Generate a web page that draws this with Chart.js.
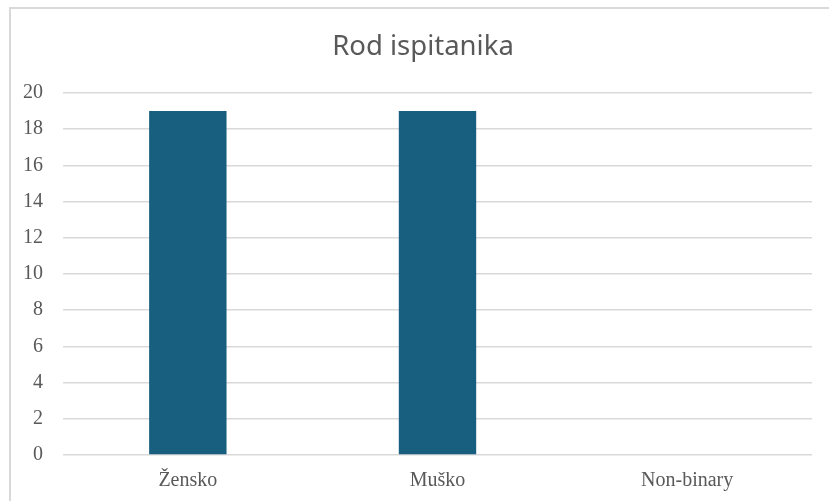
<!DOCTYPE html>
<html>
<head>
<meta charset="utf-8">
<script src="https://cdn.jsdelivr.net/npm/chart.js@4/dist/chart.umd.min.js"></script>
<style>
  html, body { margin: 0; padding: 0; background: #fff; overflow: hidden; }
  #wrap { position: relative; width: 829px; height: 501px; overflow: hidden; }
  #frame { position: absolute; left: 9px; top: 7px; width: 900px; height: 600px;
           border-left: 2px solid #d9d9d9; border-top: 2px solid #d9d9d9; box-sizing: border-box; }
  canvas { position: absolute; left: 0; top: 0; }
</style>
</head>
<body>
<div id="wrap">
  <div id="frame"></div>
  <canvas id="c" width="846" height="501"></canvas>
</div>
<script>
const chartTitle = "Rod ispitanika";
const categories = ["Žensko", "Muško", "Non-binary"];
const counts = [19, 19, 0];
const yTicks = { min: 0, max: 20, step: 2 };

new Chart(document.getElementById('c'), {
  type: 'bar',
  data: {
    labels: categories,
    datasets: [{
      data: counts,
      backgroundColor: '#175e7f',
      borderWidth: 0,
      categoryPercentage: 1.0,
      barPercentage: 0.31
    }]
  },
  options: {
    responsive: false,
    animation: false,
    devicePixelRatio: 1,
    layout: { padding: { left: 0, right: 0, top: 0, bottom: 0 } },
    plugins: {
      legend: { display: false },
      tooltip: { enabled: false },
      title: {
        display: true,
        text: chartTitle,
        color: '#595959',
        font: { family: 'Noto Sans', size: 27.5, weight: 'normal', lineHeight: 1.2 },
        padding: { top: 31, bottom: 29 }
      }
    },
    scales: {
      x: {
        afterFit: s => { s.height = 46; },
        grid: { display: false, drawTicks: false },
        border: { display: false },
        ticks: { color: '#595959', font: { family: 'Liberation Serif', size: 20 }, padding: 14 }
      },
      y: {
        min: yTicks.min,
        max: yTicks.max,
        afterFit: s => { s.width = 63; },
        grid: { color: '#d9d9d9', lineWidth: 1.5, drawTicks: false },
        border: { display: false },
        ticks: { stepSize: yTicks.step, color: '#595959', font: { family: 'Liberation Serif', size: 20 }, padding: 20 }
      },
      spacer: {
        position: 'right',
        afterFit: s => { s.width = 34; },
        grid: { display: false, drawTicks: false },
        border: { display: false },
        ticks: { display: false }
      }
    }
  }
});
</script>
</body>
</html>
